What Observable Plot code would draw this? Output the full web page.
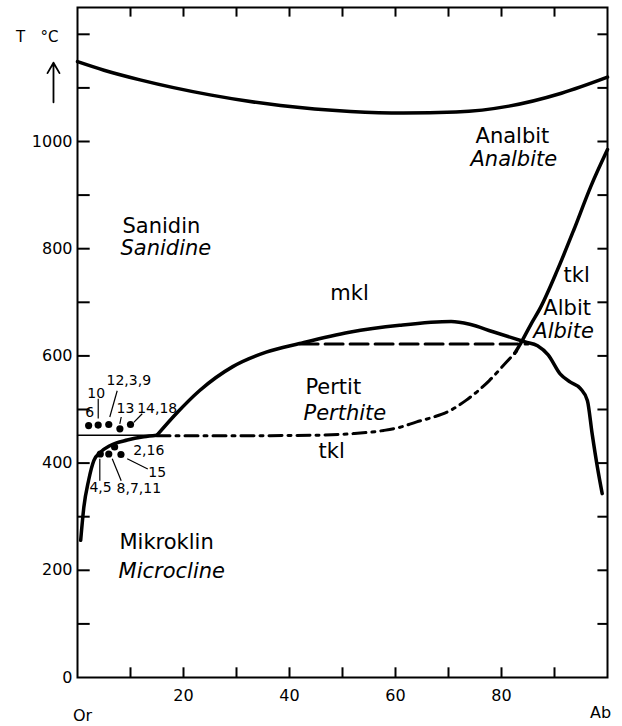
<!DOCTYPE html>
<html><head><meta charset="utf-8">
<script src="https://cdn.jsdelivr.net/npm/d3@7"></script>
<script src="https://cdn.jsdelivr.net/npm/@observablehq/plot@0.6"></script>
<style>body{margin:0;background:#fff}svg{display:block}</style>
</head><body><div id="chart"></div>
<script>
// ---- data (x = mol % Ab, T = °C) ----
const topX = [0, 5, 11.8, 25, 38.3, 51.5, 61.5, 71.4, 81.4, 91.3, 100];
const topT = [1149, 1133, 1115, 1087, 1067, 1056, 1053, 1055, 1066, 1090, 1120];

const mikroX = [0.6, 1.2, 2.1, 3.1, 4.3, 6.2, 9.4, 12.5, 15];
const mikroT = [256, 318, 368, 405, 420, 433, 443, 449, 452];

const solvusX = [15, 18.6, 23, 29.3, 35.6, 41.9, 51.3, 60.8, 70.5, 74, 78.4, 84.5, 86.8, 88.8, 91.1, 93, 94.9, 96.2, 97.1, 98.1, 99];
const solvusT = [452, 492, 535, 580, 607, 623, 644, 657, 664, 659, 645, 626, 619, 602, 566, 551, 539, 517, 455, 392, 343];

const tklX = [82.5, 83.6, 85.5, 87.4, 90.5, 93.6, 96.8, 100];
const tklT = [605, 623, 658, 691, 759, 834, 915, 985];

const dashX = [42, 85];
const dashT = [622, 622];

const dashDotX = [15, 30, 45, 52, 57.8, 60.9, 64, 67.2, 70.3, 73.3, 77.7, 80.9, 83.5];
const dashDotT = [451, 451, 452, 455, 461, 467, 477, 486, 498, 517, 554, 588, 616];

const thinX = [0, 15];
const thinT = [452, 452];

const dotX = [2.1, 3.9, 5.9, 8.0, 10.0, 4.3, 5.9, 7.0, 8.2];
const dotT = [470, 471, 472, 464, 472, 417, 417, 430, 416];

const ptLabel = ["6", "10", "12,3,9", "13", "14,18", "2,16", "15", "4,5", "8,7,11"];
const ptLabelX = [2.32, 3.53, 9.68, 9.06, 15.04, 13.45, 15.04, 4.34, 11.57];
const ptLabelT = [495, 529, 554, 501, 501, 423, 383, 355, 352];

const leadX1 = [3.91, 7.49, 8.25, 12.21, 9.38, 4.21, 6.55];
const leadT1 = [520, 535, 486, 492, 408, 408, 408];
const leadX2 = [3.91, 6.09, 7.98, 10.62, 13.26, 4.21, 8.25];
const leadT2 = [483, 486, 473, 476, 389, 367, 367];

const regionText = ["Sanidin", "Sanidine", "mkl", "Analbit", "Analbite", "Pertit", "Perthite", "tkl", "tkl", "Albit", "Albite", "Mikroklin", "Microcline"];
const regionX = [8.49, 8.11, 47.7, 75.1, 74.15, 43.0, 42.64, 45.47, 91.7, 87.9, 86.0, 7.92, 7.74];
const regionT = [830, 788, 705, 998, 954, 528, 480, 409, 737, 677, 633, 239, 186];
const regionItalic = [false, true, false, false, true, false, true, false, false, false, true, false, true];

const yLabelTicks = [0, 200, 400, 600, 800, 1000];
const yMinorTicks = [100, 200, 300, 400, 500, 600, 700, 800, 900, 1000, 1100, 1200];
const xLabelTicks = [20, 40, 60, 80];
const xMinorTicks = [10, 20, 30, 40, 50, 60, 70, 80, 90];

const endText = ["Or", "Ab"];
const endX = [0.94, 98.7];
const endT = [-82, -76];

const unitText = ["T", "°C"];
const unitX = [-10.75, -5.3];
const unitT = [1185, 1185];

const arrowX = [-4.53];
const arrowT1 = [1073];
const arrowT2 = [1147];

// ---- helpers ----
const pts = (xs, ts) => xs.map((x, i) => ({x, T: ts[i]}));
const regions = regionText.map((t, i) => ({t, x: regionX[i], T: regionT[i], it: regionItalic[i]}));
const ptLabels = ptLabel.map((t, i) => ({t, x: ptLabelX[i], T: ptLabelT[i]}));
const leaders = leadX1.map((x, i) => ({x1: x, y1: leadT1[i], x2: leadX2[i], y2: leadT2[i]}));
const fmt = d => String(d);
const tickStyle = {stroke: "black", strokeWidth: 2};
// inward tick marks: ~12 px on the left, ~10 px on the other sides
const leftTicks = yMinorTicks.map(T => ({x1: 0, x2: 2.3, T}));
const rightTicks = yMinorTicks.map(T => ({x1: 98.1, x2: 100, T}));
const bottomTicks = xMinorTicks.map(x => ({x, y1: 0, y2: 19}));
const topTicks = xMinorTicks.map(x => ({x, y1: 1233, y2: 1250}));

const plot = Plot.plot({
  width: 622, height: 726,
  marginLeft: 77, marginRight: 15, marginTop: 7, marginBottom: 49,
  x: {domain: [0, 100]},
  y: {domain: [0, 1250]},
  style: {fontFamily: "DejaVu Sans", background: "white", color: "black", overflow: "visible"},
  marks: [
    Plot.frame({strokeWidth: 2}),
    Plot.link(leftTicks, {x1: "x1", x2: "x2", y1: "T", y2: "T", ...tickStyle}),
    Plot.link(rightTicks, {x1: "x1", x2: "x2", y1: "T", y2: "T", ...tickStyle}),
    Plot.link(bottomTicks, {x1: "x", x2: "x", y1: "y1", y2: "y2", ...tickStyle}),
    Plot.link(topTicks, {x1: "x", x2: "x", y1: "y1", y2: "y2", ...tickStyle}),
    // tick labels
    Plot.axisY(yLabelTicks, {anchor: "left", tickSize: 0, tickPadding: 5, label: null, tickFormat: fmt, fontSize: 16, letterSpacing: "-1px"}),
    Plot.axisX(xLabelTicks, {anchor: "bottom", tickSize: 0, tickPadding: 12, label: null, tickFormat: fmt, fontSize: 16, letterSpacing: "-1px"}),
    // curves
    Plot.line(pts(topX, topT), {x: "x", y: "T", curve: "monotone-x", strokeWidth: 3.5}),
    Plot.line(pts(mikroX, mikroT), {x: "x", y: "T", curve: "monotone-x", strokeWidth: 3.5}),
    Plot.line(pts(solvusX, solvusT), {x: "x", y: "T", curve: "monotone-x", strokeWidth: 3.5}),
    Plot.line(pts(tklX, tklT), {x: "x", y: "T", curve: "monotone-x", strokeWidth: 3.5}),
    Plot.line(pts(thinX, thinT), {x: "x", y: "T", strokeWidth: 1.3}),
    Plot.line(pts(dashX, dashT), {x: "x", y: "T", strokeWidth: 3, strokeDasharray: "18,7"}),
    Plot.line(pts(dashDotX, dashDotT), {x: "x", y: "T", curve: "monotone-x", strokeWidth: 3, strokeDasharray: "13,6,3,6"}),
    // sample points
    Plot.dot(pts(dotX, dotT), {x: "x", y: "T", r: 3.6, fill: "black", stroke: null}),
    Plot.link(leaders, {x1: "x1", y1: "y1", x2: "x2", y2: "y2", strokeWidth: 1.2}),
    Plot.text(ptLabels, {x: "x", y: "T", text: "t", fontSize: 14, letterSpacing: "-0.5px", lineAnchor: "middle"}),
    // region labels
    Plot.text(regions.filter(d => !d.it), {x: "x", y: "T", text: "t", fontSize: 21, textAnchor: "start", lineAnchor: "bottom"}),
    Plot.text(regions.filter(d => d.it), {x: "x", y: "T", text: "t", fontSize: 21, fontStyle: "italic", textAnchor: "start", lineAnchor: "bottom"}),
    // composition end members
    Plot.text(endText.map((t, i) => ({t, x: endX[i], T: endT[i]})), {x: "x", y: "T", text: "t", fontSize: 16, letterSpacing: "2px", lineAnchor: "bottom"}),
    // axis title T °C with arrow
    Plot.text(unitText.map((t, i) => ({t, x: unitX[i], T: unitT[i]})), {x: "x", y: "T", text: "t", fontSize: 15, letterSpacing: "-2px", lineAnchor: "bottom"}),
    Plot.arrow(arrowX.map((x, i) => ({x, y1: arrowT1[i], y2: arrowT2[i]})), {x: "x", y1: "y1", y2: "y2", strokeWidth: 1.8, headLength: 10})
  ]
});
document.getElementById("chart").append(plot);
</script>
</body></html>
